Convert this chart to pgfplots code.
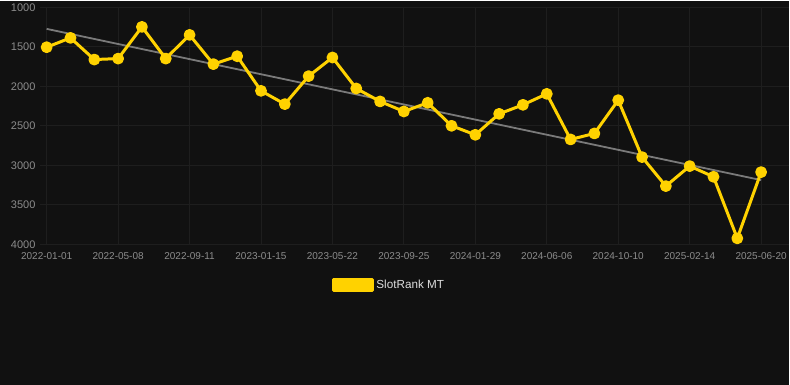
\documentclass[border=0pt]{standalone}
\usepackage{fontspec}
\setmainfont{Liberation Sans}
\usepackage{pgfplots}
\pgfplotsset{compat=1.18}
\definecolor{bg}{HTML}{111111}
\definecolor{gridc}{HTML}{1E1E1E}
\definecolor{gold}{HTML}{FFD200}
\definecolor{trend}{HTML}{7A7A7A}
\definecolor{ticktxt}{HTML}{8C8C8C}
\definecolor{legtxt}{HTML}{DDDDDD}
\begin{document}
\begin{tikzpicture}[x=1pt,y=1pt]
\fill[bg] (0,0) rectangle (790,384);
\begin{axis}[
  at={(40pt,140.7pt)}, anchor=south west,
  scale only axis, width=750pt, height=237.3pt,
  xmin=-0.281, xmax=31.19,
  ymin=1000, ymax=4000, y dir=reverse,
  clip=false,
  axis line style={draw=none},
  major tick length=0pt,
  grid=major,
  grid style={gridc, line width=0.8pt},
  xtick={0,3,6,9,12,15,18,21,24,27,30},
  xticklabels={2022-01-01,2022-05-08,2022-09-11,2023-01-15,2023-05-22,2023-09-25,2024-01-29,2024-06-06,2024-10-10,2025-02-14,2025-06-20},
  ytick={1000,1500,2000,2500,3000,3500,4000},
  /pgf/number format/assume math mode=true,
  /pgf/number format/1000 sep={},
  yticklabel style={font=\fontsize{11}{11}\selectfont, text=ticktxt, xshift=-1pt},
  xticklabel style={font=\fontsize{10}{10}\selectfont, text=ticktxt, yshift=-5pt},
  legend style={at={(0.466,-0.1715)}, anchor=center, draw=none, fill=none,
    text=legtxt, font=\fontsize{11.7}{12}\selectfont},
  legend image code/.code={\fill[gold] (0pt,-5.5pt) rectangle (39pt,5.5pt);},
]
\addplot[trend, line width=1.8pt, forget plot] coordinates {(0,1274) (30,3187)};
\addplot[gold, line width=3pt, line join=round, mark=*, mark size=4.4pt, mark options={solid, fill=gold, draw=none}] coordinates {
(0,1506) (1,1388) (2,1662) (3,1650) (4,1249) (5,1650) (6,1350) (7,1720)
(8,1620) (9,2058) (10,2226) (11,1872) (12,1636) (13,2028) (14,2192) (15,2319)
(16,2209) (17,2500) (18,2614) (19,2349) (20,2235) (21,2096) (22,2673) (23,2597)
(24,2176) (25,2896) (26,3263) (27,3010) (28,3145) (29,3924) (30,3086)
};
\addlegendentry{SlotRank MT}
\end{axis}
\end{tikzpicture}
\end{document}
